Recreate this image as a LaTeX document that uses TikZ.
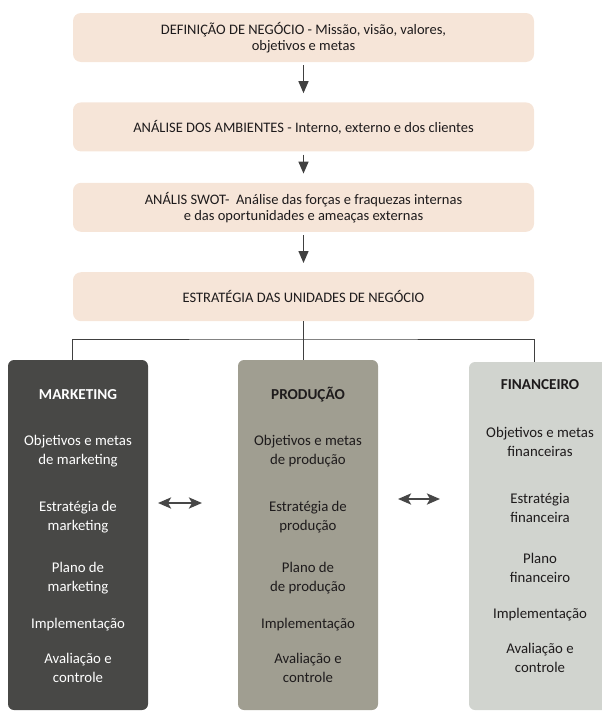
\documentclass[tikz,border=0pt]{standalone}
\usepackage{fontspec}
\setmainfont{Carlito}
\usepackage{xcolor}
\usepackage{tikz}
\usetikzlibrary{arrows.meta, positioning}
\definecolor{corCaixa}{RGB}{246,229,216}
\definecolor{corMarketing}{RGB}{72,72,70}
\definecolor{corProducao}{RGB}{160,158,145}
\definecolor{corFinanceiro}{RGB}{209,212,207}
\definecolor{corTexto}{RGB}{30,27,28}

\begin{document}
\begin{tikzpicture}[x=1pt, y=-1pt, every node/.style={font=\fontsize{14.5}{16}\selectfont, text=corTexto}]
    \tikzstyle{etapa}=[rectangle, rounded corners=8pt, fill=corCaixa, minimum width=461pt,
      minimum height=49pt, align=center, inner sep=2pt]
    \tikzstyle{coluna}=[rectangle, rounded corners=6pt, minimum width=140pt, minimum height=350pt, inner sep=0pt]
    \tikzstyle{item}=[align=center, font=\fontsize{14.8}{19}\selectfont]
    \tikzstyle{titulo}=[font=\bfseries\fontsize{15.2}{17}\selectfont]
    \tikzstyle{seta}=[-{Triangle[length=12pt, width=10pt]}, line width=1.4pt, draw=black!75,
      shorten <=3pt, shorten >=9pt]
    \tikzstyle{dupla}=[{Stealth[length=13pt, width=11pt, inset=3pt]}-{Stealth[length=13pt, width=11pt, inset=3pt]},
      line width=2.6pt, draw=black!72]
    \tikzstyle{linha}=[draw=black!75, line width=1pt]
    \useasboundingbox (0,0) rectangle (602,712);
    % etapas do planejamento
    \node[etapa] (a) at (303.5,37.5) {DEFINIÇÃO DE NEGÓCIO - Missão, visão, valores,\\objetivos e metas};
    \node[etapa, below=40pt of a] (b) {ANÁLISE DOS AMBIENTES - Interno, externo e dos clientes};
    \node[etapa, below=31pt of b] (c) {ANÁLIS SWOT-\ \ Análise das forças e fraquezas internas\\e das oportunidades e ameaças externas};
    \node[etapa, below=40pt of c] (d) {ESTRATÉGIA DAS UNIDADES DE NEGÓCIO};
    \draw[seta] (a)--(b);
    \draw[seta] (b)--(c);
    \draw[seta] (c)--(d);
    % unidades de negocio
    \node[coluna, fill=corMarketing] (mkt) at (78,535) {};
    \node[coluna, fill=corProducao] (prod) at (308,535) {};
    \node[coluna, fill=corFinanceiro, minimum width=142pt, minimum height=348pt] (fin) at (540,536) {};
    \coordinate (barra) at (303.5,339);
    \draw[linha] (d.south) -- (d.south |- prod.north);
    \draw[linha] (d.west |- mkt.north) |- (barra) -| (d.east |- fin.north);
    % marketing
    \node[titulo, text=white] (mkt0) at (78,395) {MARKETING};
    \node[item, text=white] (mkt1) at (78,451.5) {Objetivos e metas\\de marketing};
    \node[item, text=white] (mkt2) at (78,517.5) {Estratégia de\\marketing};
    \node[item, text=white] (mkt3) at (78,578) {Plano de\\marketing};
    \node[item, text=white] (mkt4) at (78,625) {Implementação};
    \node[item, text=white] (mkt5) at (78,667.5) {Avaliação e\\controle};
    % producao
    \node[titulo] (prod0) at (308,395) {PRODUÇÃO};
    \node[item] (prod1) at (308,451.5) {Objetivos e metas\\de produção};
    \node[item] (prod2) at (308,517.5) {Estratégia de\\produção};
    \node[item] (prod3) at (308,578) {Plano de\\de produção};
    \node[item] (prod4) at (308,625) {Implementação};
    \node[item] (prod5) at (308,667.5) {Avaliação e\\controle};
    % financeiro
    \node[titulo] (fin0) at (540,385) {FINANCEIRO};
    \node[item] (fin1) at (540,441.5) {Objetivos e metas\\financeiras};
    \node[item] (fin2) at (540,507.5) {Estratégia\\financeira};
    \node[item] (fin3) at (540,568) {Plano\\financeiro};
    \node[item] (fin4) at (540,615) {Implementação};
    \node[item] (fin5) at (540,657.5) {Avaliação e\\controle};
    % integracao entre as areas
    \coordinate (i1) at (158,503);
    \coordinate (i2) at (202,503);
    \coordinate (i3) at (398,499);
    \coordinate (i4) at (440,499);
    \draw[dupla] (i1)--(i2);
    \draw[dupla] (i3)--(i4);
  \end{tikzpicture}
\end{document}
